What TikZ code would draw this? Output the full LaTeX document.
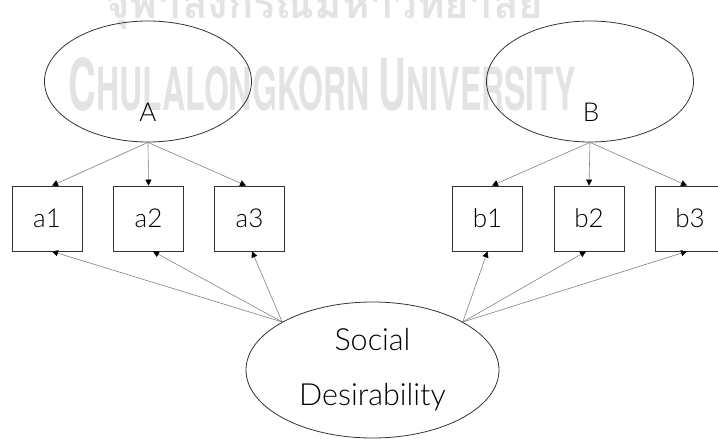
\documentclass[tikz,border=0pt]{standalone}
\usepackage{fontspec}
\usepackage{graphicx}
\setmainfont{Lato Light}
\newfontfamily\thaifont[Script=Thai]{Loma}
\newfontfamily\wmfont{TeX Gyre Heros}
\usetikzlibrary{shapes.geometric,arrows.meta,calc}
\begin{document}
\begin{tikzpicture}[x=1pt,y=-1pt,
  lat/.style={ellipse,draw=black!80,line width=0.8pt,minimum width=207pt,minimum height=121pt,inner sep=0pt},
  obs/.style={rectangle,draw=black!80,line width=0.8pt,minimum width=70pt,minimum height=65pt,inner sep=0pt,font=\fontsize{26}{30}\selectfont},
  lbl/.style={inner sep=0pt,font=\fontsize{26}{30}\selectfont},
  conn/.style={draw=black!50,line width=0.6pt,-{Triangle[length=6pt,width=6pt,color=black]}},
  wm/.style={text=black!11,inner sep=0pt}]
\useasboundingbox (0,0) rectangle (718,439);
% watermark
\node[wm,anchor=base west] (wmth) at (105,18) {\resizebox{438pt}{!}{\thaifont\bfseries จุฬาลงกรณ์มหาวิทยาลัย}};
\node[wm,anchor=base west] (wmen) at (68,110) {\resizebox{508pt}{53pt}{\wmfont\bfseries\fontsize{10}{12}\selectfont C\fontsize{8.3}{10}\selectfont HULALONGKORN \fontsize{10}{12}\selectfont U\fontsize{8.3}{10}\selectfont NIVERSITY}};
% latent variables
\node[lat] (A) at (148,81.5) {};
\node[lbl] (Alab) at (148,112) {A};
\node[lat] (B) at (590,81.5) {};
\node[lbl] (Blab) at (591,112) {B};
\node[lat,minimum width=253pt,minimum height=136pt,align=center,font=\fontsize{30.5}{55}\selectfont] (S) at (372.5,370) {Social\\Desirability};
% indicators
\node[obs] (a1) at (47,218.5) {a1};
\node[obs] (a2) at (148.5,218.5) {a2};
\node[obs] (a3) at (249.5,218.5) {a3};
\node[obs] (b1) at (487.5,218.5) {b1};
\node[obs] (b2) at (589,218.5) {b2};
\node[obs] (b3) at (690,218.5) {b3};
% loadings
\draw[conn] (A.south) -- ($(a1.north)+(5,0)$);
\draw[conn] (A.south) -- (a2.north);
\draw[conn] (A.south) -- ($(a3.north)+(-3.5,0)$);
\draw[conn] (B.south) -- ($(b1.north)+(4.5,0)$);
\draw[conn] (B.south) -- (b2.north);
\draw[conn] (B.south) -- ($(b3.north)+(-3,0)$);
\draw[conn] (S.152) -- ($(a1.south)+(5,0)$);
\draw[conn] (S.152) -- ($(a2.south)+(4.5,0)$);
\draw[conn] (S.152) -- ($(a3.south)+(2.5,0)$);
\draw[conn] (S.28) -- (b1.south);
\draw[conn] (S.28) -- ($(b2.south)+(-3,0)$);
\draw[conn] (S.28) -- ($(b3.south)+(-3,0)$);
\end{tikzpicture}
\end{document}
